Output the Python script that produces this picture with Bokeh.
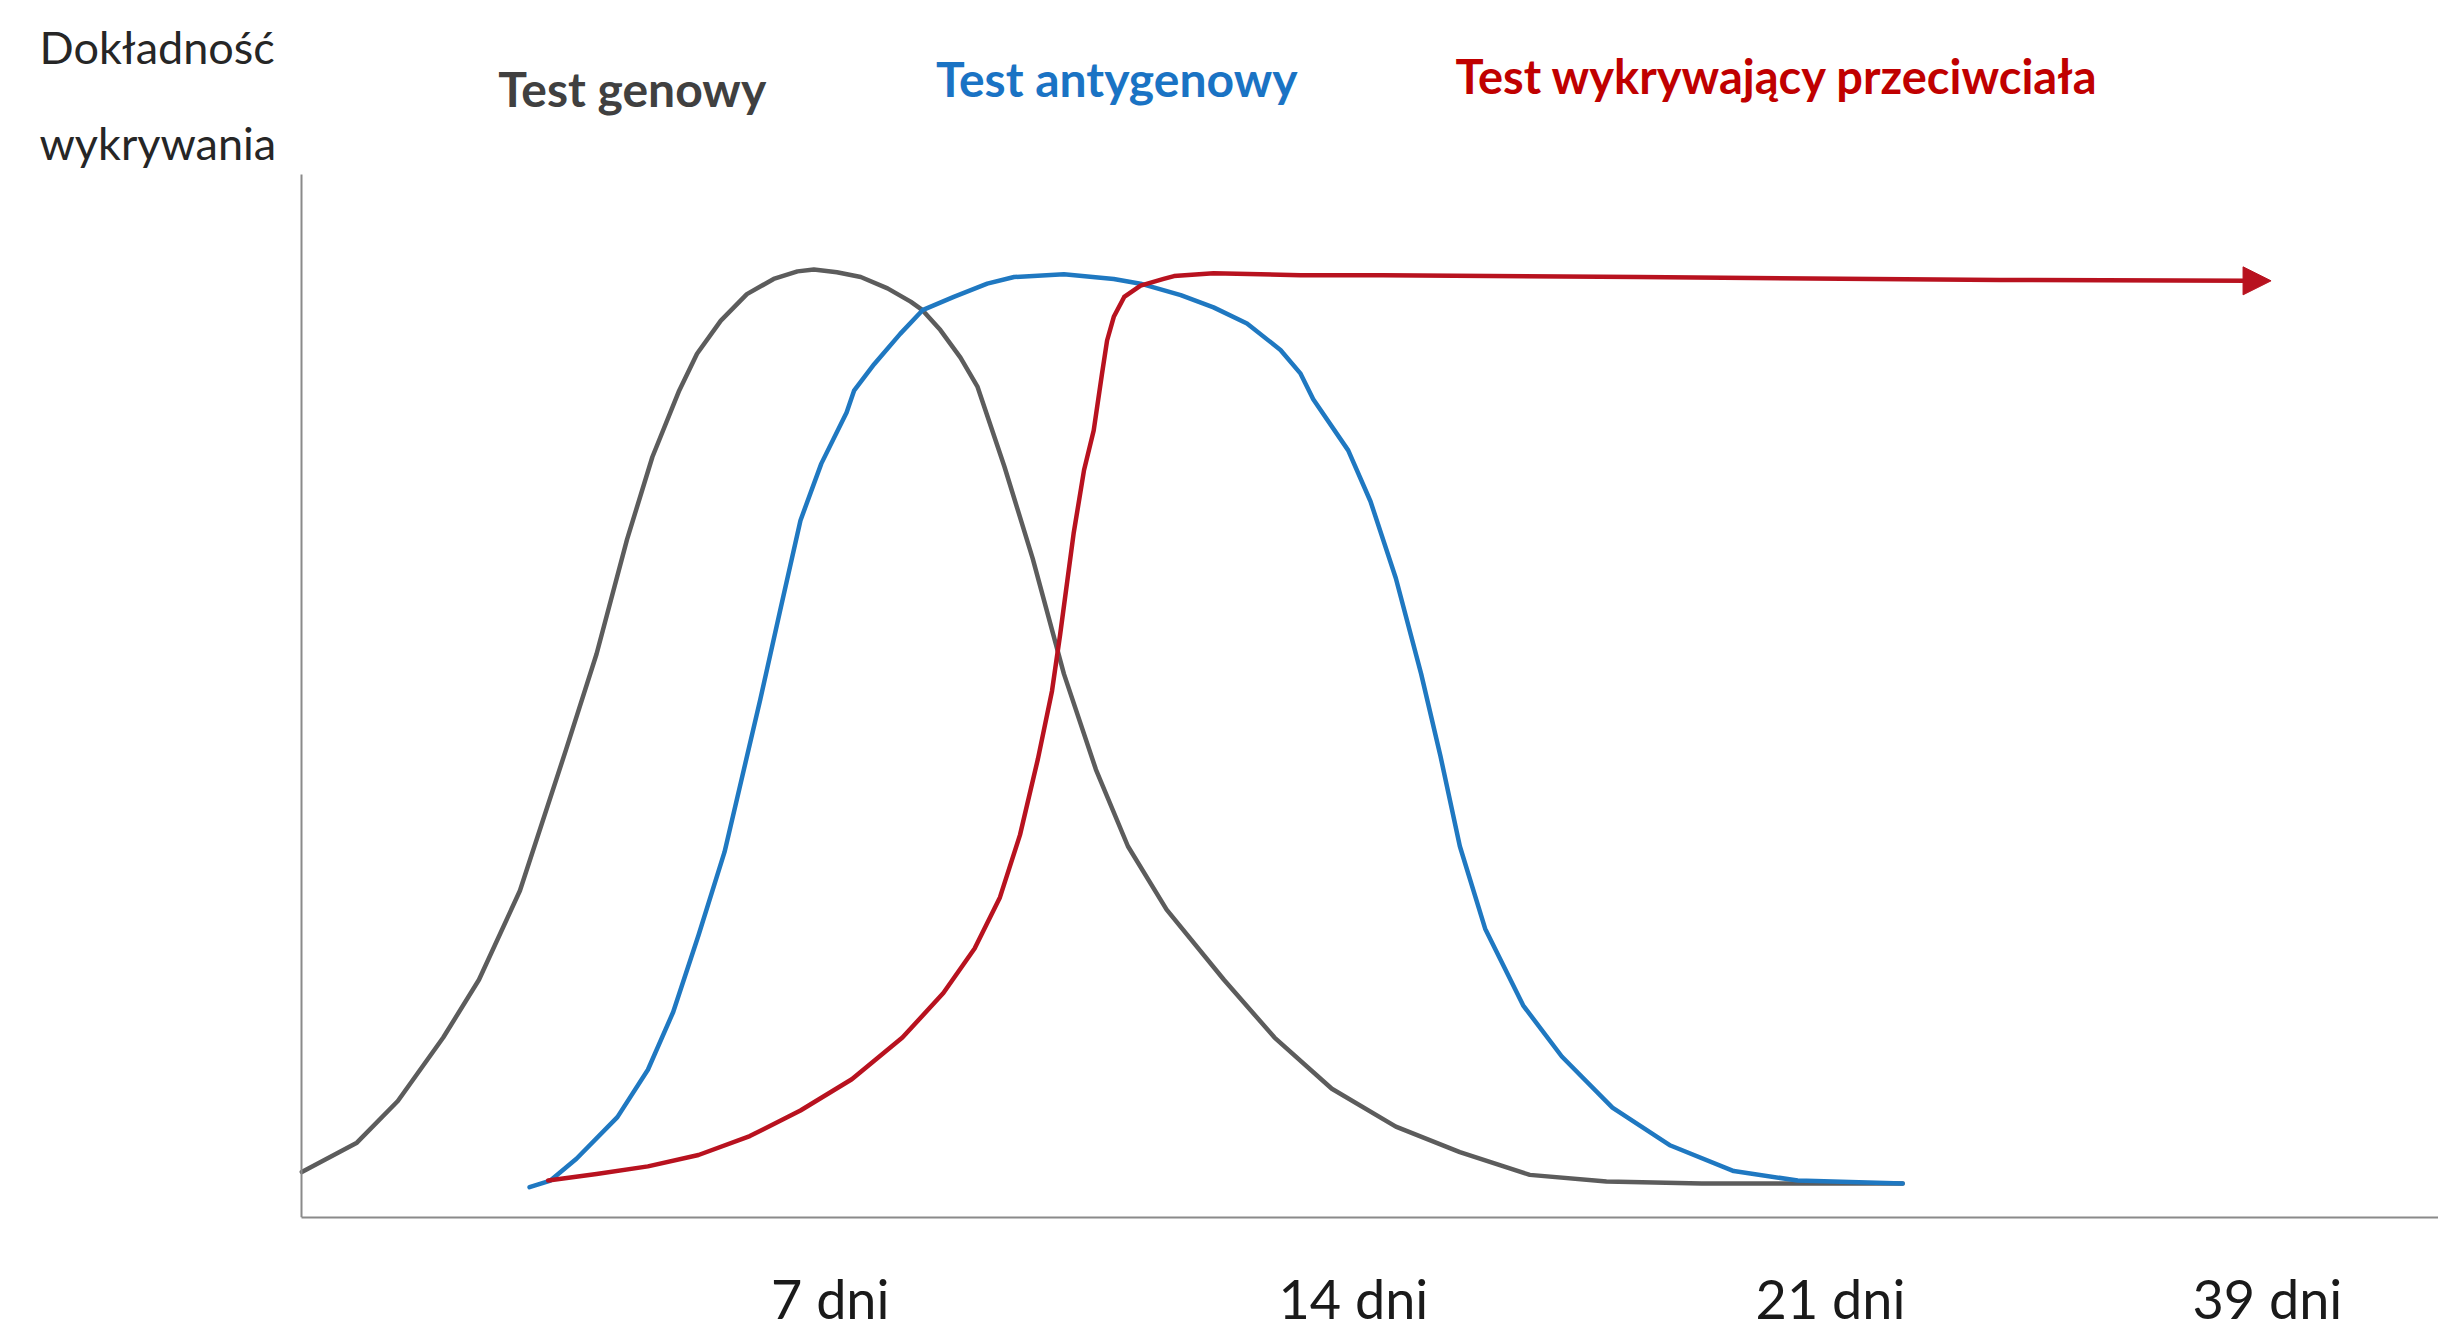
from bokeh.plotting import figure
from bokeh.models import Range1d, Label, Arrow, NormalHead, FixedTicker, LinearAxis
from bokeh.embed import file_html
from bokeh.resources import INLINE

# ---------------- data ----------------
# x: days (approx.), y: relative detection accuracy (peak ~ 100)
gray_days = [-0.13, 0.61, 1.16, 1.77, 2.25, 2.80, 3.42, 3.83, 4.24, 4.58, 4.94, 5.18,
             5.50, 5.85, 6.21, 6.53, 6.75, 7.06, 7.38, 7.74, 8.05, 8.21, 8.45, 8.72,
             8.95, 9.31, 9.69, 10.11, 10.54, 10.97, 11.49, 12.26, 12.94, 13.71, 14.57,
             15.43, 16.37, 17.40, 18.68, 19.97, 21.38]
gray_acc = [4.8, 7.9, 12.3, 19.0, 25.1, 34.5, 49.4, 59.5, 71.6, 80.3, 87.3, 91.2,
            94.7, 97.5, 99.1, 99.9, 100.1, 99.8, 99.3, 98.1, 96.7, 95.8, 93.7, 90.8,
            87.7, 79.3, 69.6, 57.4, 47.3, 39.2, 32.5, 25.1, 19.0, 13.6, 9.6,
            6.9, 4.5, 3.8, 3.6, 3.6, 3.6]

blue_days = [2.93, 3.21, 3.56, 4.11, 4.52, 4.86, 5.20, 5.55, 5.75, 6.03, 6.30, 6.57,
             6.85, 7.19, 7.29, 7.56, 7.91, 8.21, 8.63, 9.08, 9.44, 10.11, 10.78, 11.14,
             11.68, 12.12, 12.57, 13.02, 13.29, 13.46, 13.93, 14.23, 14.57, 14.91,
             15.17, 15.43, 15.77, 16.28, 16.80, 17.48, 18.26, 19.11, 19.97, 21.38]
blue_acc = [3.2, 3.9, 6.2, 10.6, 15.6, 21.7, 29.8, 38.6, 45.3, 54.7, 64.2, 73.6,
            79.6, 85.0, 87.3, 90.1, 93.3, 95.8, 97.2, 98.6, 99.3, 99.6, 99.1, 98.6,
            97.4, 96.1, 94.4, 91.6, 89.1, 86.4, 81.0, 75.6, 67.5, 57.4,
            48.7, 39.2, 30.5, 22.4, 17.0, 11.6, 7.6, 4.9, 3.9, 3.6]

red_days = [3.18, 3.83, 4.52, 5.20, 5.89, 6.57, 7.26, 7.94, 8.49, 8.91, 9.25, 9.52,
            9.76, 9.95, 10.06, 10.24, 10.38, 10.51, 10.62, 10.69, 10.78, 10.92, 11.14,
            11.45, 11.59, 12.12, 12.75, 13.29, 14.40, 17.83, 22.69, 26.03]
red_acc = [3.9, 4.6, 5.4, 6.6, 8.6, 11.3, 14.6, 19.0, 23.7, 28.4, 33.8, 40.4,
           48.4, 55.6, 61.6, 72.2, 78.9, 83.1, 89.0, 92.6, 95.1, 97.2, 98.4,
           99.1, 99.4, 99.7, 99.6, 99.5, 99.5, 99.3, 99.0, 98.9]

tick_days = [6.97, 14.0, 20.41, 26.28]
tick_labels = ["7 dni", "14 dni", "21 dni", "39 dni"]

series_names = ["Test genowy", "Test antygenowy", "Test wykrywający przeciwciała"]
y_title = ["Dokładność", "wykrywania"]

# ---------------- styling ----------------
GRAY = "#5c5c5c"
BLUE = "#1f78c1"
RED = "#b8121f"
AXIS = "#8a8a8a"
FONT = "Lato"
X0 = -0.134      # where the vertical axis stands
Y_TOP = 110.1    # top end of the vertical axis line

p = figure(width=2438, height=1337, output_backend="svg", toolbar_location=None,
           x_range=Range1d(-4.179, 28.58), y_range=Range1d(0, 128.5),
           min_border_left=0, min_border_right=0, min_border_top=0,
           min_border_bottom=120, x_axis_type=None, y_axis_type=None)
p.outline_line_color = None
p.background_fill_color = "white"
p.border_fill_color = "white"

xaxis = LinearAxis(ticker=FixedTicker(ticks=tick_days), bounds=(X0, 28.58),
                   major_label_overrides={d: l for d, l in zip(tick_days, tick_labels)})
xaxis.axis_line_color = AXIS
xaxis.axis_line_width = 2
xaxis.major_tick_line_color = None
xaxis.minor_tick_line_color = None
xaxis.major_tick_out = 0
xaxis.major_tick_in = 0
xaxis.major_label_text_font = FONT
xaxis.major_label_text_font_size = "54px"
xaxis.major_label_text_color = "#1a1a1a"
xaxis.major_label_standoff = 48
p.add_layout(xaxis, "below")

yaxis = LinearAxis(ticker=FixedTicker(ticks=[]), bounds=(0, Y_TOP), fixed_location=X0)
yaxis.axis_line_color = AXIS
yaxis.axis_line_width = 2
yaxis.major_tick_line_color = None
yaxis.minor_tick_line_color = None
yaxis.major_tick_out = 0
yaxis.major_tick_in = 0
yaxis.minor_tick_out = 0
yaxis.major_label_standoff = 0
yaxis.major_label_text_font_size = "0px"
p.add_layout(yaxis, "left")

p.line(gray_days, gray_acc, line_color=GRAY, line_width=4.5, line_join="round", line_cap="round")
p.line(blue_days, blue_acc, line_color=BLUE, line_width=4.5, line_join="round", line_cap="round")
p.line(red_days, red_acc, line_color=RED, line_width=4.5, line_join="round", line_cap="round")

p.add_layout(Arrow(end=NormalHead(size=28, fill_color=RED, line_color=RED, line_width=1),
                   x_start=red_days[-1], y_start=red_acc[-1],
                   x_end=red_days[-1] + 0.3, y_end=red_acc[-1],
                   line_color=RED, line_width=4.5))

title_pos = [(2.51, 119.2), (8.39, 120.3), (15.37, 120.5)]
title_sizes = ["48px", "48px", "47px"]
title_colors = ["#404040", "#1a73c4", "#c00000"]
for (tx, ty), name, col, fs in zip(title_pos, series_names, title_colors, title_sizes):
    p.add_layout(Label(x=tx, y=ty, text=name, text_font=FONT, text_font_style="bold",
                       text_font_size=fs, text_color=col, text_baseline="alphabetic",
                       text_align="left"))

for txt, ty in zip(y_title, [123.6, 113.5]):
    p.add_layout(Label(x=-3.655, y=ty, text=txt, text_font=FONT,
                       text_font_size="45px", text_color="#262626",
                       text_baseline="alphabetic", text_align="left"))

open("out.html", "w").write(file_html(p, INLINE))
